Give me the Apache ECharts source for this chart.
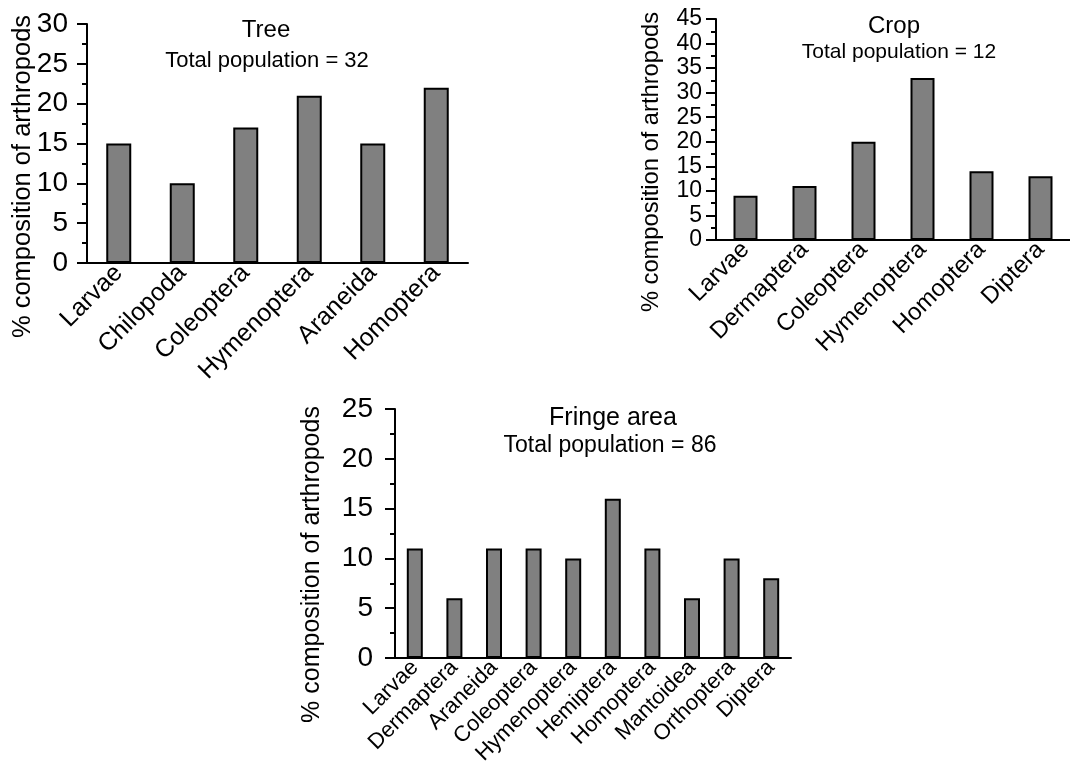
<!DOCTYPE html>
<html>
<head>
<meta charset="utf-8">
<script src="https://cdn.jsdelivr.net/npm/echarts@6/dist/echarts.min.js"></script>
<style>
html,body{margin:0;padding:0;background:#fff;}
#c{width:1070px;height:769px;}
</style>
</head>
<body>
<div id="c"></div>
<script>
// ---- data ----
var treeCategories = ['Larvae', 'Chilopoda', 'Coleoptera', 'Hymenoptera', 'Araneida', 'Homoptera'];
var treeValues = [15, 10, 17, 21, 15, 22];
var cropCategories = ['Larvae', 'Dermaptera', 'Coleoptera', 'Hymenoptera', 'Homoptera', 'Diptera'];
var cropValues = [9, 11, 20, 33, 14, 13];
var fringeCategories = ['Larvae', 'Dermaptera', 'Araneida', 'Coleoptera', 'Hymenoptera', 'Hemiptera', 'Homoptera', 'Mantoidea', 'Orthoptera', 'Diptera'];
var fringeValues = [11, 6, 11, 11, 10, 16, 11, 6, 10, 8];
var treeYTicks = [0, 30, 5];
var cropYTicks = [0, 45, 5];
var fringeYTicks = [0, 25, 5];
var yAxisName = '% composition of arthropods';
var titles = ['Tree', 'Crop', 'Fringe area'];
var subtitles = ['Total population = 32', 'Total population = 12', 'Total population = 86'];

var FONT = '"Liberation Sans", Arial, Helvetica, sans-serif';
var chart = echarts.init(document.getElementById('c'), null, {renderer: 'canvas'});

function xAxis(idx, cats, fs, margin) {
  return {
    type: 'category', gridIndex: idx, data: cats,
    axisLine: {show: true, lineStyle: {color: '#000', width: 2}},
    axisTick: {show: false},
    axisLabel: {interval: 0, rotate: 45, fontSize: fs, fontFamily: FONT, color: '#000', margin: margin,
      hideOverlap: false, showMinLabel: true, showMaxLabel: true}
  };
}
function yAxis(idx, t, fs, margin) {
  return {
    type: 'value', gridIndex: idx, min: t[0], max: t[1], interval: t[2],
    axisLine: {show: true, lineStyle: {color: '#000', width: 2}},
    axisTick: {show: true, inside: false, length: 10, lineStyle: {color: '#000', width: 2}},
    minorTick: {show: true, splitNumber: 2, length: 5, lineStyle: {color: '#000', width: 2}},
    splitLine: {show: false},
    axisLabel: {fontSize: fs, fontFamily: FONT, color: '#000', margin: margin,
      hideOverlap: false, showMinLabel: true, showMaxLabel: true}
  };
}
function bars(idx, vals, w) {
  return {
    type: 'bar', xAxisIndex: idx, yAxisIndex: idx, data: vals, barWidth: w,
    itemStyle: {color: '#808080', borderColor: '#000', borderWidth: 2},
    emphasis: {disabled: true}, animation: false
  };
}
function txt(x, y, s, fs, rot) {
  return {
    type: 'text', x: x, y: y, rotation: rot || 0,
    style: {text: s, fontSize: fs, fontFamily: FONT, fill: '#000',
      align: 'center', verticalAlign: 'middle', textAlign: 'center', textVerticalAlign: 'middle'}
  };
}

chart.setOption({
  animation: false,
  grid: [
    {left: 87, top: 24, width: 381, height: 239},
    {left: 716, top: 19, width: 354, height: 221},
    {left: 395, top: 409, width: 396, height: 249}
  ],
  xAxis: [
    xAxis(0, treeCategories, 25, 6),
    xAxis(1, cropCategories, 24, 6),
    xAxis(2, fringeCategories, 22, 6)
  ],
  yAxis: [
    yAxis(0, treeYTicks, 28, 19),
    yAxis(1, cropYTicks, 23, 14),
    yAxis(2, fringeYTicks, 28, 22)
  ],
  series: [
    bars(0, treeValues, 25),
    bars(1, cropValues, 24),
    bars(2, fringeValues, 16)
  ],
  graphic: [
    txt(266, 30.5, titles[0], 24),
    txt(267, 61, subtitles[0], 22),
    txt(894, 26, titles[1], 24),
    txt(899, 52.5, subtitles[1], 21),
    txt(613, 418.5, titles[2], 25),
    txt(610, 446, subtitles[2], 23),
    txt(22.5, 176.5, yAxisName, 25.5, Math.PI / 2),
    txt(651, 162, yAxisName, 23.7, Math.PI / 2),
    txt(312.5, 564.5, yAxisName, 25, Math.PI / 2)
  ]
});
</script>
</body>
</html>
